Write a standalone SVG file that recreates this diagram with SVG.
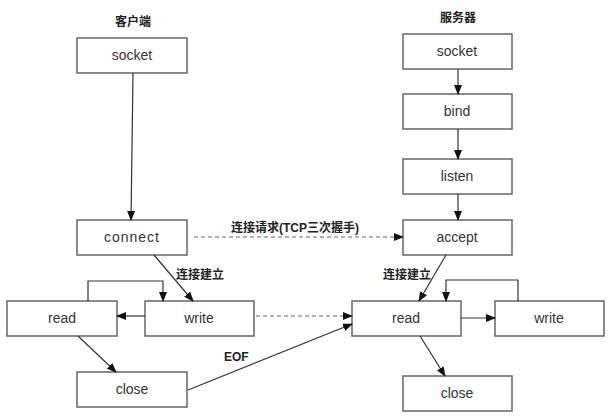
<svg xmlns="http://www.w3.org/2000/svg" width="612" height="416" viewBox="0 0 612 416">
<style>
.box{fill:#fff;stroke:#666;stroke-width:1.5}
.t{font-family:"Liberation Sans",Arial,sans-serif;font-size:14px;fill:#333;text-anchor:middle}
.cn{font-family:"Liberation Sans","Noto Sans CJK SC",sans-serif;font-size:12px;font-weight:bold;fill:#222}
.ln{fill:none;stroke:#333;stroke-width:1.2}
.dash{fill:none;stroke:#666;stroke-width:1.2;stroke-dasharray:4 3}
</style>
<defs>
<marker id="ah" markerWidth="10" markerHeight="8" refX="9" refY="4" orient="auto" markerUnits="userSpaceOnUse">
<path d="M0,0 L10,4 L0,8 Z" fill="#111"/>
</marker>
</defs>
<rect width="612" height="416" fill="#fff"/>
<text class="cn" x="133" y="26" text-anchor="middle">客户端</text>
<text class="cn" x="458" y="22" text-anchor="middle">服务器</text>
<g id="c_socket"><rect class="box" x="77" y="38" width="110" height="35"/><text class="t" x="132" y="60">socket</text></g>
<g id="c_connect"><rect class="box" x="77" y="220" width="110" height="35"/><text class="t" x="132" y="242" style="letter-spacing:1px">connect</text></g>
<g id="c_read"><rect class="box" x="7" y="301" width="110" height="35"/><text class="t" x="62" y="323">read</text></g>
<g id="c_write"><rect class="box" x="145" y="301" width="109" height="35"/><text class="t" x="199" y="323">write</text></g>
<g id="c_close"><rect class="box" x="77" y="372" width="110" height="35"/><text class="t" x="132" y="394">close</text></g>
<g id="s_socket"><rect class="box" x="403" y="34" width="109" height="35"/><text class="t" x="457" y="56">socket</text></g>
<g id="s_bind"><rect class="box" x="403" y="94" width="109" height="35"/><text class="t" x="457" y="116">bind</text></g>
<g id="s_listen"><rect class="box" x="403" y="159" width="109" height="35"/><text class="t" x="457" y="181">listen</text></g>
<g id="s_accept"><rect class="box" x="403" y="220" width="109" height="35"/><text class="t" x="457" y="242">accept</text></g>
<g id="s_read"><rect class="box" x="352" y="301" width="109" height="35"/><text class="t" x="406" y="323">read</text></g>
<g id="s_write"><rect class="box" x="495" y="301" width="109" height="35"/><text class="t" x="549" y="323">write</text></g>
<g id="s_close"><rect class="box" x="403" y="376" width="109" height="35"/><text class="t" x="457" y="398">close</text></g>
<g id="connectors">
<path class="ln" d="M133,73 L131,220" marker-end="url(#ah)"/>
<path class="ln" d="M458,69 L458,94" marker-end="url(#ah)"/>
<path class="ln" d="M458,129 L458,159" marker-end="url(#ah)"/>
<path class="ln" d="M458,194 L458,220" marker-end="url(#ah)"/>
<path class="dash" d="M194,237 L403,237" marker-end="url(#ah)"/>
<path class="ln" d="M154,255 L193,301" marker-end="url(#ah)"/>
<path class="ln" d="M145,316 L117,316" marker-end="url(#ah)"/>
<path class="ln" d="M88,301 L88,281 L163,281 L163,301" marker-end="url(#ah)"/>
<path class="ln" d="M78,336 L116,372" marker-end="url(#ah)"/>
<path class="dash" d="M256,316 L352,316" marker-end="url(#ah)"/>
<path class="ln" d="M188,390 L352,324" marker-end="url(#ah)"/>
<path class="ln" d="M446,255 L419,301" marker-end="url(#ah)"/>
<path class="ln" d="M518,301 L518,280 L446,280 L446,301" marker-end="url(#ah)"/>
<path class="ln" d="M461,318 L495,318" marker-end="url(#ah)"/>
<path class="ln" d="M420,336 L445,376" marker-end="url(#ah)"/>
<text class="cn" x="231" y="232">连接请求(TCP三次握手)</text>
<text class="cn" x="176" y="279">连接建立</text>
<text class="cn" x="383" y="279">连接建立</text>
<text class="cn" x="224" y="361">EOF</text>
</g>
</svg>
